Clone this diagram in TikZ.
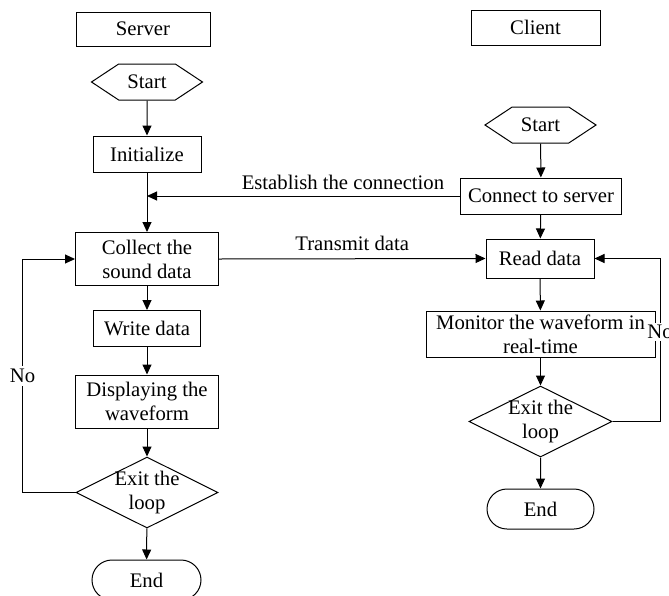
\documentclass[tikz,border=0pt]{standalone}
\usepackage{fontspec}
\setmainfont{Liberation Serif}
\usetikzlibrary{arrows.meta,shapes.geometric,shapes.misc,shapes.symbols}

\tikzset{
  box/.style={draw, rectangle, inner sep=1pt, align=center},
  startbox/.style={draw, signal, signal to=west and east, signal pointer angle=67,
    minimum width=55.5pt, minimum height=18pt, inner sep=0pt},
  decide/.style={draw, diamond, aspect=2, inner sep=-3pt, align=center},
  endbox/.style={draw, rounded rectangle, minimum height=20pt, inner sep=0pt},
  arr/.style={-{Triangle[length=5pt,width=4.5pt]}},
  lbl/.style={fill=white, inner sep=1.5pt}
}

\begin{document}
\begin{tikzpicture}[x=0.5pt, y=-0.5pt, line width=0.5pt,
    font=\fontsize{10.35}{12}\selectfont]
    \useasboundingbox (0,0) rectangle (669,595);

    % Headers
    \node[box, minimum width=67pt, minimum height=17pt] (server) at (143,29) {Server};
    \node[box, minimum width=64.5pt, minimum height=17.5pt] (client) at (535.5,27.5) {Client};

    % Server side
    \node[startbox] (sstart) at (147,82) {Start};
    \node[box, minimum width=54pt, minimum height=18pt] (init) at (147,154) {Initialize};
    \node[box, minimum width=71.5pt, minimum height=26.5pt] (collect) at (147,259) {Collect the\\sound data};
    \node[box, minimum width=53.5pt, minimum height=18pt] (write) at (147,328.5) {Write data};
    \node[box, minimum width=71.5pt, minimum height=26.5pt] (disp) at (147,401.5) {Displaying the\\waveform};
    \node[decide, minimum width=71pt, minimum height=35.5pt] (sexit) at (147,492.5) {Exit the\\loop};
    \node[endbox, minimum width=54.5pt] (send) at (146.5,580) {End};

    % Client side
    \node[startbox] (cstart) at (540.5,125) {Start};
    \node[box, minimum width=80.5pt, minimum height=18pt] (connect) at (541,196) {Connect to server};
    \node[box, minimum width=54pt, minimum height=19.5pt] (read) at (540,258.5) {Read data};
    \node[box, minimum width=114.5pt, minimum height=23pt, inner sep=0pt] (monitor) at (540.5,334) {Monitor the waveform in\\real-time};
    \node[decide, minimum width=71.5pt, minimum height=35.5pt] (cexit) at (540.5,421.5) {Exit the\\loop};
    \node[endbox, minimum width=53.5pt] (cend) at (540.5,509) {End};

    % Server flow
    \draw[arr] (sstart) -- (init);
    \draw[arr] (init) -- (collect);
    \draw[arr] (collect) -- (write);
    \draw[arr] (write) -- (disp);
    \draw[arr] (disp) -- (sexit);
    \draw[arr] (sexit) -- (send);
    \draw[arr] (sexit.west) -- ++(-53,0) |- (collect.west) node[pos=0.25, lbl] {No};

    % Client flow
    \draw[arr] (cstart) -- (connect);
    \draw[arr] (connect) -- (read);
    \draw[arr] (read) -- (monitor);
    \draw[arr] (monitor) -- (cexit);
    \draw[arr] (cexit) -- (cend);
    \draw[arr] (cexit.east) -- ++(47.5,0) |- (read.east) node[pos=0.275, lbl, inner sep=1pt] {No};

    % Between the two
    \draw[arr] (connect.west) -- (connect.west -| init.south) node[pos=0.374, above, inner sep=3pt] {Establish the connection};
    \draw[arr] (collect.east) -- (read.west) node[midway, above, inner sep=4pt] {Transmit data};
\end{tikzpicture}
\end{document}
